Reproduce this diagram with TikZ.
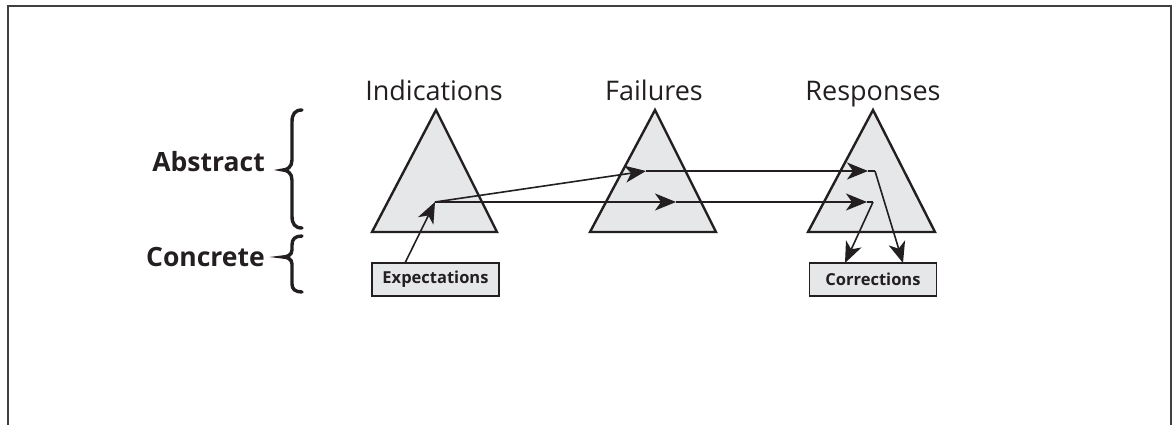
\documentclass[tikz,border=0pt]{standalone}
\usepackage{fontspec}
\setmainfont{Open Sans}
\usetikzlibrary{arrows.meta}
\definecolor{ink}{RGB}{35,31,32}
\definecolor{shade}{RGB}{230,231,232}
\tikzset{
  tri/.style={draw=ink, line width=2.4pt, fill=shade, line join=miter},
  arr/.style={draw=ink, line width=1.6pt, -{Stealth[length=21pt,width=17pt,inset=6pt]}},
  plain/.style={draw=ink, line width=1.6pt},
  lbl/.style={font=\fontsize{27}{30}\selectfont, text=ink, anchor=base, inner sep=0pt},
  side/.style={font=\bfseries\fontsize{26.5}{30}\selectfont, text=ink, anchor=base east, inner sep=0pt},
  tbox/.style={draw=ink, line width=1.6pt, fill=shade, font=\bfseries\fontsize{16.5}{19}\selectfont, text=ink, minimum width=127pt, minimum height=33pt, inner sep=0pt},
  brace/.style={draw=ink, line width=3.4pt, line cap=round}
}
\begin{document}
\begin{tikzpicture}[x=1pt,y=-1pt]
\useasboundingbox (0,0) rectangle (1173,424);
% frame
\draw[black!75, line width=2pt] (7.5,430) -- (7.5,5.5) -- (1171,5.5) -- (1171,430);
% triangles
\draw[tri] (436,110) -- (497,232) -- (372,232) -- cycle;
\draw[tri] (655,110) -- (716,232) -- (590,232) -- cycle;
\draw[tri] (873,110) -- (935,232) -- (808,232) -- cycle;
% titles
\node[lbl] (ind) at (434,100) {Indications};
\node[lbl] (fail) at (654,100) {Failures};
\node[lbl] (resp) at (873,100) {Responses};
% side labels
\node[side] (abs) at (265,171) {Abstract};
\node[side] (con) at (265,266) {Concrete};
% braces
\draw[brace] (302,110) .. controls (295,110) and (292,114) .. (292,122) -- (292,160) .. controls (292,167) and (287,170) .. (283,170) .. controls (287,170) and (292,173) .. (292,180) -- (292,216) .. controls (292,224) and (295,228) .. (302,228);
\draw[brace] (302,236) .. controls (295,236) and (292,239) .. (292,245) -- (292,250) .. controls (292,255) and (287,257) .. (283,257) .. controls (287,257) and (292,259) .. (292,264) -- (292,284) .. controls (292,289) and (295,292) .. (302,292);
% boxes
\node[tbox] (exp) at (435.5,279.5) {Expectations};
\node[tbox] (corr) at (873,279.5) {Corrections};
% connector points
\coordinate (A) at (435,202);
\coordinate (F1) at (646,171);
\coordinate (R1) at (868,171);
\coordinate (R1c) at (875,171);
\coordinate (F2) at (676,202);
\coordinate (R2) at (867,202);
\coordinate (R2c) at (873,202);
\coordinate (expt) at (405,263);
\coordinate (corrA) at (903,263);
\coordinate (corrB) at (845,263);
% arrows
\draw[arr] (expt) -- (A);
\draw[arr] (A) -- (F1);
\draw[arr] (F1) -- (R1);
\draw[plain] (R1) -- (R1c);
\draw[arr] (R1c) -- (corrA);
\draw[arr] (A) -- (F2);
\draw[arr] (F2) -- (R2);
\draw[plain] (R2) -- (R2c);
\draw[arr] (R2c) -- (corrB);
\end{tikzpicture}
\end{document}
